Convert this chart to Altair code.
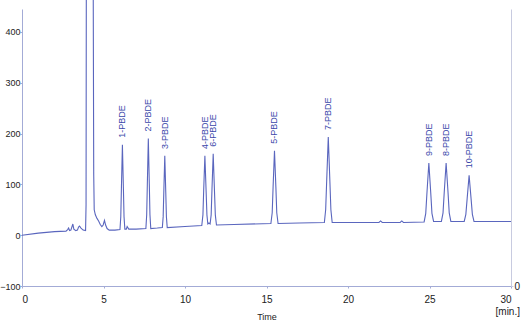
import altair as alt
import pandas as pd

# chromatogram trace (time in min, signal)
trace_time = [
    0, 1, 2, 2.7, 2.8, 2.86, 2.92, 3.0, 3.07, 3.12, 3.18, 3.3, 3.4, 3.47, 3.53, 3.62, 3.75, 3.9,
    3.93, 3.95, 4.36, 4.40, 4.43, 4.5, 4.6, 4.7, 4.8, 4.9, 4.98, 5.06, 5.13, 5.22, 5.35, 5.7,
    6.01, 6.06, 6.10, 6.16, 6.22, 6.26, 6.31, 6.40, 6.45, 6.55, 7.0,
    7.60, 7.65, 7.69, 7.75, 7.81, 7.85, 7.90, 8.3,
    8.61, 8.66, 8.70, 8.76, 8.82, 8.86, 8.91, 10.0,
    11.03, 11.10, 11.145, 11.22, 11.295, 11.345, 11.40, 11.47, 11.54, 11.605, 11.655, 11.73, 11.805, 11.86, 11.93,
    13.0, 15.27, 15.35, 15.405, 15.49, 15.575, 15.63, 15.71, 17.0,
    18.55, 18.63, 18.695, 18.79, 18.885, 18.95, 19.03, 21.0, 21.9, 22.0, 22.1, 23.2, 23.3, 23.4,
    24.67, 24.77, 24.845, 24.96, 25.075, 25.15, 25.25, 25.49,
    25.73, 25.83, 25.905, 26.02, 26.135, 26.21, 26.31, 26.7,
    27.13, 27.23, 27.31, 27.43, 27.55, 27.63, 27.73, 30.0,
]
trace_signal = [
    0, 4, 7, 8, 11, 14, 9, 10, 17, 22, 12, 9, 10, 16, 18, 14, 10, 9,
    60, 600, 600, 120, 50, 40, 33, 28, 21, 17, 20, 29, 20, 13, 10, 10,
    11, 36, 94, 178, 94, 36, 12, 12, 17, 12, 12,
    13, 40, 101, 190, 101, 40, 13, 14,
    15, 36, 85, 156, 85, 36, 15, 17,
    19, 40, 87, 156, 87, 40, 22, 24, 22, 40, 90, 160, 90, 40, 20,
    21, 23, 44, 95, 166, 95, 44, 23, 24,
    25, 50, 109, 193, 109, 50, 25, 25, 25, 28, 25, 25, 28, 25,
    26, 43, 84, 142, 84, 43, 27, 27,
    27, 44, 85, 142, 85, 44, 27, 27,
    27, 41, 72, 118, 72, 41, 27, 27,
]

# peak labels
peak_names = ["1-PBDE", "2-PBDE", "3-PBDE", "4-PBDE", "6-PBDE", "5-PBDE",
              "7-PBDE", "9-PBDE", "8-PBDE", "10-PBDE"]
peak_times = [6.16, 7.75, 8.76, 11.22, 11.73, 15.49, 18.79, 24.96, 26.02, 27.43]
peak_heights = [178, 190, 156, 156, 160, 166, 193, 142, 142, 118]

x_ticks = [0, 5, 10, 15, 20, 25, 30]
y_ticks = [-100, 0, 100, 200, 300, 400]

trace = pd.DataFrame({"time": trace_time, "signal": trace_signal})
peaks = pd.DataFrame({"name": peak_names, "time": peak_times, "height": peak_heights})

FONT = "Liberation Sans"
AXIS_COLOR = "#a3abd6"

xscale = alt.Scale(domain=[0, 30], nice=False)
yscale = alt.Scale(domain=[-100, 445], nice=False)

line = alt.Chart(trace).mark_line(color="#5a66be", strokeWidth=1.1, clip=False).encode(
    x=alt.X("time:Q", scale=xscale,
            axis=alt.Axis(values=x_ticks, title="Time", titleFontSize=9, titleFontWeight="normal",
                          titleFont=FONT, titleColor="#222", titlePadding=8,
                          labelFont=FONT, labelFontSize=10, labelColor="#222", labelPadding=6,
                          tickSize=2, tickColor=AXIS_COLOR, domainColor=AXIS_COLOR, grid=False)),
    y=alt.Y("signal:Q", scale=yscale,
            axis=alt.Axis(values=y_ticks, title=None, labelFont=FONT, labelFontSize=9,
                          labelColor="#222", labelPadding=0, tickSize=2, tickColor=AXIS_COLOR,
                          domainColor=AXIS_COLOR, grid=False)),
)

labels = alt.Chart(peaks).mark_text(angle=270, align="left", baseline="middle", dx=7,
                                    fontSize=9, font=FONT, color="#3a48aa").encode(
    x=alt.X("time:Q"),
    y=alt.Y("height:Q", scale=yscale, axis=None),
    text="name:N",
)

unit = alt.Chart(pd.DataFrame({"u": ["[min.]"]})).mark_text(
    fontSize=10, font=FONT, color="#222", baseline="middle", align="center").encode(
    x=alt.X(datum=29.8),
    y=alt.value(303),
    text="u:N",
)

right = alt.Chart(pd.DataFrame({"z": [0]})).mark_point(opacity=0).encode(
    x=alt.X(datum=30),
    y=alt.Y("z:Q", scale=alt.Scale(domain=[0, 1], nice=False),
            axis=alt.Axis(orient="right", values=[0], title=None, labelFont=FONT,
                          labelFontSize=10, labelColor="#222", labelPadding=1, tickSize=2,
                          tickColor="#c8cbe0", domainColor="#c8cbe0", grid=False)),
)

chart = alt.layer(line, labels, unit, right).resolve_scale(y="independent").properties(
    width=489, height=277,
    autosize=alt.AutoSizeParams(type="none"),
    padding={"left": 22, "top": 9, "right": 11, "bottom": 35},
    background="white",
).configure_view(stroke=None)

chart.save("out.html", embed_options={"renderer": "svg", "actions": False})
